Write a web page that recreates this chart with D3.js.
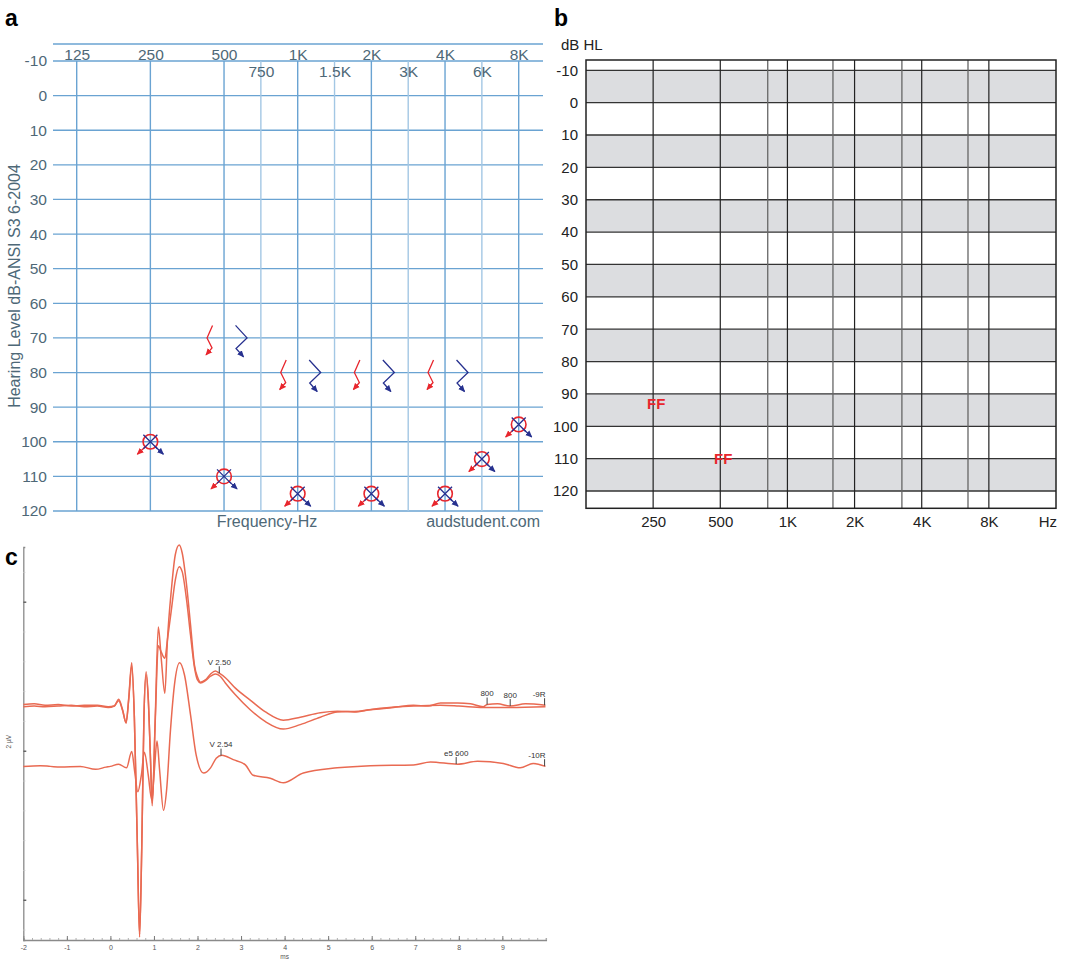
<!DOCTYPE html>
<html><head><meta charset="utf-8">
<script src="https://cdn.jsdelivr.net/npm/d3@7"></script>
<style>body{margin:0;background:#fff} svg{display:block;font-family:"Liberation Sans",Arial,sans-serif}</style>
</head><body><svg id="fig" width="1085" height="959"></svg>
<script>
// ---------- Panel a data ----------
const aFreqLabels = ['125','250','500','750','1K','1.5K','2K','3K','4K','6K','8K'];
const aFreqHz = [125,250,500,750,1000,1500,2000,3000,4000,6000,8000];
const aDbTicks = [-10,0,10,20,30,40,50,60,70,80,90,100,110,120];
const boneFreqHz = [500,1000,2000,4000];
const boneRightDb = [70,80,80,80];
const boneLeftDb = [70,80,80,80];
const airFreqHz = [250,500,1000,2000,4000,6000,8000];
const airRightDb = [100,110,115,115,115,105,95];
const airLeftDb = [100,110,115,115,115,105,95];

// ---------- Panel b data ----------
const bFreqHz = [250,500,1000,2000,4000,8000];
const bFreqLabels = ['250','500','1K','2K','4K','8K'];
const bMinorHz = [816,1600,3260,6450];
const bDbTicks = [-10,0,10,20,30,40,50,60,70,80,90,100,110,120];
const ffFreqHz = [250,500];
const ffDb = [93,110];

// ---------- Panel c data (ms, µV) ----------
const traceA = [[-2.00,0.62],[-1.75,0.63],[-1.5,0.61],[-1.2,0.62],[-0.9,0.60],[-0.6,0.61],[-0.3,0.61],[-0.05,0.59],[0.09,0.60],[0.19,0.69],[0.28,0.55],[0.36,0.37],[0.42,0.70],[0.49,1.18],[0.55,0.45],[0.62,-1.30],[0.67,-2.50],[0.72,-1.30],[0.77,0.45],[0.82,1.06],[0.87,0.70],[0.92,-0.10],[0.96,-0.74],[1.03,0.45],[1.10,1.66],[1.17,1.22],[1.25,0.77],[1.31,1.49],[1.40,2.16],[1.49,2.63],[1.58,2.76],[1.65,2.65],[1.75,2.22],[1.84,1.69],[1.93,1.15],[2.00,0.99],[2.07,0.92],[2.18,0.95],[2.30,1.03],[2.41,1.07],[2.50,1.04],[2.64,0.98],[2.87,0.84],[3.21,0.68],[3.56,0.52],[3.97,0.41],[4.36,0.45],[4.82,0.51],[5.21,0.53],[5.6,0.52],[5.97,0.55],[6.5,0.58],[6.96,0.61],[7.3,0.60],[7.58,0.64],[7.97,0.64],[8.27,0.63],[8.56,0.59],[8.65,0.62],[8.89,0.63],[9.18,0.60],[9.53,0.63],[9.99,0.61]];
const traceB = [[-2.00,0.59],[-1.75,0.60],[-1.5,0.59],[-1.2,0.60],[-0.9,0.61],[-0.6,0.59],[-0.3,0.60],[-0.05,0.58],[0.09,0.60],[0.19,0.67],[0.28,0.54],[0.36,0.38],[0.42,0.68],[0.49,1.14],[0.55,0.45],[0.62,-1.30],[0.67,-2.46],[0.72,-1.30],[0.77,0.45],[0.82,1.02],[0.87,0.68],[0.92,-0.10],[0.96,-0.70],[1.03,0.40],[1.10,1.41],[1.17,1.32],[1.25,1.24],[1.31,1.49],[1.40,1.89],[1.49,2.29],[1.58,2.47],[1.65,2.40],[1.75,2.02],[1.84,1.55],[1.93,1.12],[2.00,0.95],[2.07,0.91],[2.18,0.94],[2.30,1.00],[2.41,1.03],[2.52,1.00],[2.64,0.91],[2.87,0.75],[3.21,0.55],[3.56,0.39],[3.97,0.29],[4.36,0.35],[4.82,0.45],[5.21,0.52],[5.7,0.53],[6.2,0.57],[6.96,0.60],[7.58,0.61],[8.0,0.60],[8.56,0.58],[9.18,0.58],[9.99,0.59]];
const traceC = [[-2.00,-0.21],[-1.61,-0.20],[-1.38,-0.21],[-1.15,-0.22],[-0.69,-0.21],[-0.34,-0.25],[-0.1,-0.22],[0.0,-0.21],[0.19,-0.18],[0.37,-0.23],[0.49,-0.01],[0.56,-0.29],[0.63,-0.55],[0.71,-0.33],[0.78,-0.02],[0.87,-0.33],[0.95,-0.66],[1.01,-0.26],[1.07,0.13],[1.13,-0.26],[1.22,-0.80],[1.29,-0.53],[1.38,0.28],[1.47,0.88],[1.59,1.18],[1.70,1.02],[1.84,0.48],[1.97,-0.06],[2.14,-0.30],[2.30,-0.23],[2.43,-0.10],[2.56,-0.06],[2.82,-0.12],[3.10,-0.19],[3.28,-0.33],[3.67,-0.37],[3.97,-0.43],[4.43,-0.30],[5.21,-0.23],[5.97,-0.20],[6.96,-0.19],[7.35,-0.15],[7.97,-0.18],[8.43,-0.14],[9.02,-0.17],[9.41,-0.23],[9.71,-0.17],[9.99,-0.21]];
const markerTrace = ['A','A','A','A','C','C','C'];
const markerMs = [2.50,8.65,9.18,9.97,2.54,7.94,9.97];
const markerText = ['V  2.50','800','800','-9R','V  2.54','e5 600','-10R'];

// =====================================================
const svg = d3.select('#fig');
const defs = svg.append('defs');
const RED = '#e8262d', BLUE = '#27318f';
const FONT = '"Liberation Sans",Arial,sans-serif';
const plain = d => String(d);
function mk(id, col){
  defs.append('marker').attr('id',id).attr('viewBox','0 -4 8 8').attr('refX',7).attr('refY',0)
    .attr('markerWidth',7).attr('markerHeight',7).attr('markerUnits','userSpaceOnUse').attr('orient','auto')
    .append('path').attr('d','M0,-3.5L8,0L0,3.5Z').attr('fill',col);
}
mk('arrR',RED); mk('arrB',BLUE);

// panel letters
svg.append('text').attr('x',5).attr('y',26).text('a').attr('font-size',23).attr('font-weight','bold');
svg.append('text').attr('x',554).attr('y',26).text('b').attr('font-size',23).attr('font-weight','bold');
svg.append('text').attr('x',5).attr('y',565).text('c').attr('font-size',23).attr('font-weight','bold');

// ---------------- Panel a ----------------
const GRID = '#6aa3d2', GRIDL = '#a3c7e4', TXT = '#4e6877';
const oct = f => Math.round(2*Math.log2(f/125))/2;
const xA = d3.scaleLinear().domain([0,6]).range([76.7,518.7]);
const yA = d3.scaleLinear().domain([-10,120]).range([61,511]);
const aL = 53, aR = 543;
const gA = svg.append('g');
gA.append('line').attr('x1',aL).attr('x2',aR).attr('y1',yA(-10)-17).attr('y2',yA(-10)-17).attr('stroke',GRID).attr('stroke-width',1.3);
gA.selectAll('.hl').data(aDbTicks).join('line').attr('x1',aL).attr('x2',aR)
  .attr('y1',d=>yA(d)).attr('y2',d=>yA(d)).attr('stroke',GRID).attr('stroke-width',1.3);
gA.selectAll('.vl').data(aFreqHz).join('line')
  .attr('x1',d=>xA(oct(d))).attr('x2',d=>xA(oct(d))).attr('y1',yA(-10)).attr('y2',yA(120))
  .attr('stroke',d=>oct(d)%1? GRIDL: GRID).attr('stroke-width',1.4);
const axL = gA.append('g').attr('transform',`translate(${aL-6},0)`)
  .call(d3.axisLeft(yA).tickValues(aDbTicks).tickFormat(plain).tickSize(0).tickPadding(0));
axL.select('.domain').remove();
axL.selectAll('text').attr('font-size',15.5).attr('fill',TXT).attr('font-family',FONT);
const octIdx = aFreqHz.map(oct);
const lab = new Map(octIdx.map((o,i)=>[o,aFreqLabels[i]]));
const row1 = octIdx.filter(o=>o%1===0), row2 = octIdx.filter(o=>o%1!==0);
[[row1,59.5],[row2,76.5]].forEach(([vals,yb])=>{
  const ax = gA.append('g').attr('transform',`translate(0,${yb})`)
    .call(d3.axisTop(xA).tickValues(vals).tickFormat(o=>lab.get(o)).tickSize(0).tickPadding(0));
  ax.select('.domain').remove();
  ax.selectAll('text').attr('font-size',15.5).attr('fill',TXT).attr('font-family',FONT);
});
gA.append('text').attr('transform',`translate(20,${(yA(-10)+yA(120))/2}) rotate(-90)`)
  .attr('text-anchor','middle').attr('font-size',16).attr('fill',TXT).text('Hearing Level dB-ANSI S3 6-2004');
gA.append('text').attr('x',267).attr('y',527).attr('text-anchor','middle').attr('font-size',16).attr('fill',TXT).text('Frequency-Hz');
gA.append('text').attr('x',540).attr('y',527).attr('text-anchor','end').attr('font-size',16).attr('fill',TXT).text('audstudent.com');

boneFreqHz.forEach((f,i)=>{
  const vx = xA(oct(f))-17, vy = yA(boneRightDb[i]);
  gA.append('path').attr('d',`M${vx+5.5},${vy-12.5}L${vx},${vy}L${vx+5},${vy+10}L${vx-1},${vy+17}`)
    .attr('fill','none').attr('stroke',RED).attr('stroke-width',1.3).attr('marker-end','url(#arrR)');
  const bx = xA(oct(f))+23, by = yA(boneLeftDb[i]);
  gA.append('path').attr('d',`M${bx-11.5},${by-12.5}L${bx},${by}L${bx-11},${by+10.5}L${bx-3.5},${by+19}`)
    .attr('fill','none').attr('stroke',BLUE).attr('stroke-width',1.3).attr('marker-end','url(#arrB)');
});
airFreqHz.forEach((f,i)=>{
  const cx = xA(oct(f)), cy = yA(airRightDb[i]);
  gA.append('circle').attr('cx',cx).attr('cy',cy).attr('r',7.3).attr('fill','none').attr('stroke',RED).attr('stroke-width',1.6);
  gA.append('line').attr('x1',cx-4.5).attr('y1',cy+4.5).attr('x2',cx-13).attr('y2',cy+12.5)
    .attr('stroke',RED).attr('stroke-width',1.3).attr('marker-end','url(#arrR)');
  const ly = yA(airLeftDb[i]);
  gA.append('path').attr('d',`M${cx-7},${ly-7}L${cx+7},${ly+7}M${cx+7},${ly-7}L${cx-7},${ly+7}`)
    .attr('stroke',BLUE).attr('stroke-width',1.3);
  gA.append('line').attr('x1',cx+4.5).attr('y1',ly+4.5).attr('x2',cx+13).attr('y2',ly+12.5)
    .attr('stroke',BLUE).attr('stroke-width',1.3).attr('marker-end','url(#arrB)');
});

// ---------------- Panel b ----------------
const xB = d3.scaleLog().domain([125,16000]).range([586,1056]);
const yB = d3.scaleLinear().domain([-10,120]).range([70.3,491]);
const bT = 60, bBot = 508.3;
const gB = svg.append('g');
gB.selectAll('.band').data(bDbTicks.filter((d,i)=>i%2===0 && d<120)).join('rect')
  .attr('x',xB(125)).attr('width',xB(16000)-xB(125))
  .attr('y',d=>yB(d)).attr('height',d=>yB(d+10)-yB(d)).attr('fill','#dcdde0');
gB.selectAll('.hl').data(bDbTicks).join('line').attr('x1',xB(125)).attr('x2',xB(16000))
  .attr('y1',d=>yB(d)).attr('y2',d=>yB(d)).attr('stroke','#333').attr('stroke-width',1.3);
gB.selectAll('.vm').data(bMinorHz).join('line').attr('x1',d=>xB(d)).attr('x2',d=>xB(d))
  .attr('y1',bT).attr('y2',bBot).attr('stroke','#666').attr('stroke-width',1.3);
gB.selectAll('.vM').data(bFreqHz).join('line').attr('x1',d=>xB(d)).attr('x2',d=>xB(d))
  .attr('y1',bT).attr('y2',bBot).attr('stroke','#222').attr('stroke-width',1.2);
gB.append('rect').attr('x',xB(125)).attr('y',bT).attr('width',xB(16000)-xB(125)).attr('height',bBot-bT)
  .attr('fill','none').attr('stroke','#222').attr('stroke-width',1.5);
const bxL = gB.append('g').attr('transform',`translate(578,0)`)
  .call(d3.axisLeft(yB).tickValues(bDbTicks).tickFormat(plain).tickSize(0).tickPadding(0));
bxL.select('.domain').remove();
bxL.selectAll('text').attr('font-size',15).attr('fill','#222').attr('font-family',FONT);
const bxB = gB.append('g').attr('transform',`translate(0,527)`)
  .call(d3.axisTop(xB).tickValues(bFreqHz).tickFormat((d,i)=>bFreqLabels[i]).tickSize(0).tickPadding(0));
bxB.select('.domain').remove();
bxB.selectAll('text').attr('font-size',15).attr('fill','#222').attr('font-family',FONT);
gB.append('text').attr('x',xB(16000)+1).attr('y',527).attr('text-anchor','end').attr('font-size',15).attr('fill','#222').text('Hz');
gB.append('text').attr('x',561).attr('y',50).attr('font-size',15).attr('fill','#222').text('dB HL');
ffFreqHz.forEach((f,i)=>{
  gB.append('text').attr('x',xB(f)+3).attr('y',yB(ffDb[i])).attr('dy','0.36em').attr('text-anchor','middle')
    .attr('font-size',15).attr('font-weight','bold').attr('fill',RED).text('FF');
});

// ---------------- Panel c ----------------
const xC = d3.scaleLinear().domain([-2,10]).range([23.3,545.9]);
const yC = d3.scaleLinear().domain([-2.54,2.734]).range([940,547]);
const gC = svg.append('g');
const AX = '#8a8a8a';
const cb = gC.append('g').attr('transform','translate(0,940)')
  .call(d3.axisBottom(xC).tickValues(d3.range(-2,10.01,0.2)).tickSize(-2).tickFormat(''));
cb.selectAll('line').attr('stroke','#b0b0b0');
cb.select('.domain').attr('stroke',AX).attr('stroke-width',1.3);
const cb2 = gC.append('g').attr('transform','translate(0,940)')
  .call(d3.axisBottom(xC).tickValues(d3.range(-2,10,1)).tickSize(-4).tickPadding(5).tickFormat(plain));
cb2.select('.domain').remove();
cb2.selectAll('line').attr('stroke','#777');
cb2.selectAll('text').attr('font-size',7).attr('fill','#555').attr('font-family',FONT);
const cl = gC.append('g').attr('transform',`translate(${xC(-2)},0)`)
  .call(d3.axisRight(yC).tickValues(d3.range(-2.4,2.41,0.4)).tickSize(2).tickFormat(''));
cl.selectAll('line').attr('stroke','#c8c8c8');
cl.select('.domain').attr('stroke',AX).attr('stroke-width',1.3);
const cl2 = gC.append('g').attr('transform',`translate(${xC(-2)},0)`)
  .call(d3.axisRight(yC).tickValues([-2,0,2]).tickSize(3).tickFormat(''));
cl2.select('.domain').remove();
cl2.selectAll('line').attr('stroke','#555').attr('stroke-width',1.3);
gC.append('text').attr('transform',`translate(11,${yC(0)-9}) rotate(-90)`).attr('text-anchor','middle')
  .attr('font-size',6.5).attr('fill','#555').text('2 µV');
gC.append('text').attr('x',xC(4)).attr('y',958.5).attr('text-anchor','middle').attr('font-size',6.5).attr('fill','#555').text('ms');

const line = d3.line().x(d=>xC(d[0])).y(d=>yC(d[1])).curve(d3.curveMonotoneX);
const traces = {A:traceA, B:traceB, C:traceC};
['A','B','C'].forEach(k=>{
  gC.append('path').datum(traces[k]).attr('d',line).attr('fill','none')
    .attr('stroke','#e96a52').attr('stroke-width',1.5).attr('stroke-linejoin','round');
});
const interp = (tr,ms)=>{
  const i = d3.bisector(d=>d[0]).left(tr,ms);
  if(i<=0) return tr[0][1]; if(i>=tr.length) return tr[tr.length-1][1];
  const a=tr[i-1], b=tr[i]; return a[1]+(b[1]-a[1])*(ms-a[0])/(b[0]-a[0]);
};
markerMs.forEach((ms,i)=>{
  const tr = traces[markerTrace[i]];
  const x = xC(ms), y = yC(interp(tr,ms));
  gC.append('line').attr('x1',x).attr('x2',x).attr('y1',y-7).attr('y2',y).attr('stroke','#444').attr('stroke-width',1);
  gC.append('text').attr('x',ms>9.8? x+1 : x).attr('y',y-8.5).attr('text-anchor',ms>9.8?'end':'middle')
    .attr('font-size',8).attr('fill','#333').text(markerText[i]);
});
</script></body></html>
